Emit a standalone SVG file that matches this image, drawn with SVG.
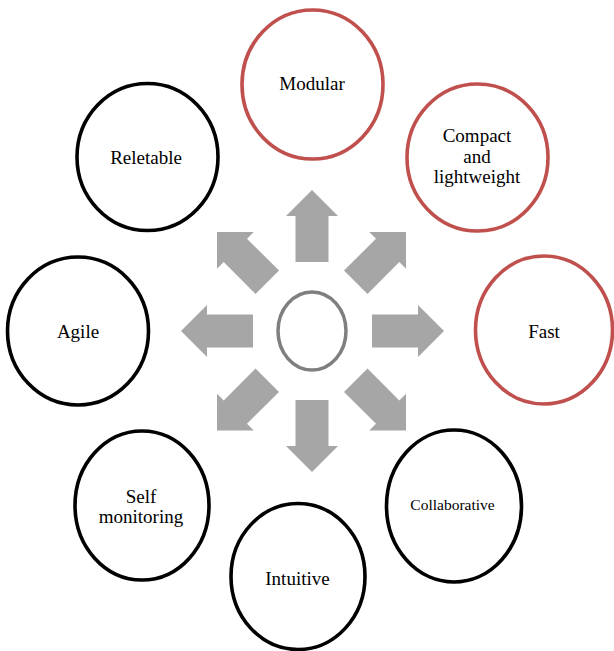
<svg xmlns="http://www.w3.org/2000/svg" width="614" height="651" viewBox="0 0 614 651">
  <defs>
    <style>
      .node { fill: #ffffff; stroke-width: 3.6; }
      .dark { stroke: #000000; }
      .red { stroke: #C0504D; }
      .hub { fill: #ffffff; stroke: #7F7F7F; stroke-width: 3.5; }
      .label { font-family: "Liberation Serif", "Times New Roman", serif; font-size: 19px; fill: #000000; text-anchor: middle; }
      .arrow { fill: #A6A6A6; }
    </style>
    <!-- block arrow pointing up, tip at origin -->
    <polygon id="arrowUp" points="0,0 26,26 16.5,26 16.5,72 -16.5,72 -16.5,26 -26,26"/>
    <!-- diagonal block arrow pointing up-left, tip at origin -->
    <polygon id="arrowDiag" points="0,0 36.8,0 30,6.7 62,38.5 38.5,62 6.7,30 0,36.8"/>
  </defs>

  <rect width="614" height="651" fill="#ffffff"/>

  <!-- connectors: eight arrows radiating from the hub -->
  <g id="connectors" class="arrow">
    <use href="#arrowUp" transform="translate(312,190)"/>
    <use href="#arrowUp" transform="translate(312,472) rotate(180)"/>
    <use href="#arrowUp" transform="translate(181,331) rotate(-90)"/>
    <use href="#arrowUp" transform="translate(444,331) rotate(90)"/>
    <use href="#arrowDiag" transform="translate(217,232)"/>
    <use href="#arrowDiag" transform="translate(406,232) scale(-1,1)"/>
    <use href="#arrowDiag" transform="translate(217,430.5) scale(1,-1)"/>
    <use href="#arrowDiag" transform="translate(406,430.5) scale(-1,-1)"/>
  </g>

  <g id="hub">
    <ellipse class="hub" cx="312" cy="331" rx="34" ry="39"/>
  </g>

  <g id="modular">
    <ellipse class="node red" cx="312.5" cy="84.5" rx="70.5" ry="74.5"/>
    <text class="label" x="312" y="89.5">Modular</text>
  </g>

  <g id="compact">
    <ellipse class="node red" cx="477.5" cy="157.5" rx="70.5" ry="73.5"/>
    <text class="label" x="477" y="141.5">Compact</text>
    <text class="label" x="477" y="162.5">and</text>
    <text class="label" x="477" y="183">lightweight</text>
  </g>

  <g id="fast">
    <ellipse class="node red" cx="544" cy="330" rx="68.5" ry="74"/>
    <text class="label" x="544" y="337.5">Fast</text>
  </g>

  <g id="collaborative">
    <ellipse class="node dark" cx="454" cy="506" rx="67.5" ry="76"/>
    <text class="label" x="452.5" y="510" style="font-size:15.5px">Collaborative</text>
  </g>

  <g id="intuitive">
    <ellipse class="node dark" cx="298" cy="576.5" rx="67" ry="73"/>
    <text class="label" x="297.5" y="585">Intuitive</text>
  </g>

  <g id="self-monitoring">
    <ellipse class="node dark" cx="142" cy="505.5" rx="67" ry="74.5"/>
    <text class="label" x="141" y="502.5">Self</text>
    <text class="label" x="141" y="522.5">monitoring</text>
  </g>

  <g id="agile">
    <ellipse class="node dark" cx="78" cy="331" rx="70.5" ry="74"/>
    <text class="label" x="78" y="338">Agile</text>
  </g>

  <g id="reletable">
    <ellipse class="node dark" cx="147.5" cy="157" rx="70.5" ry="73.5"/>
    <text class="label" x="146" y="163.5">Reletable</text>
  </g>
</svg>
